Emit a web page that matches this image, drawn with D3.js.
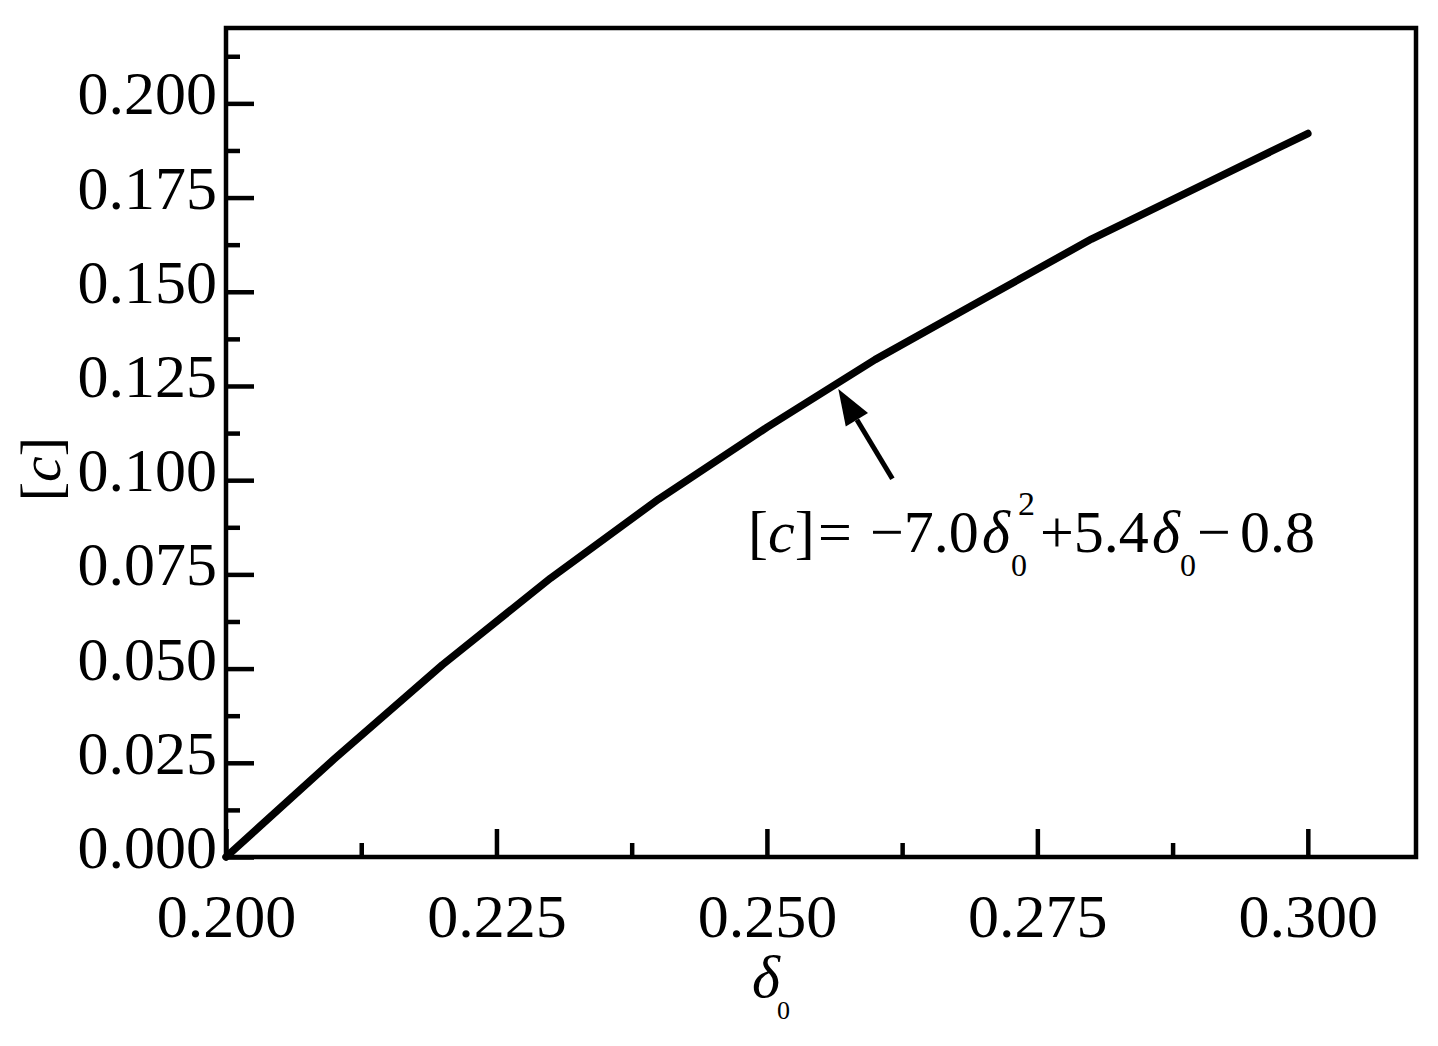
<!DOCTYPE html>
<html>
<head>
<meta charset="utf-8">
<script src="https://cdn.jsdelivr.net/npm/d3@7"></script>
<style>
  html, body { margin: 0; padding: 0; background: #fff; }
  svg { display: block; }
  text { font-family: "Liberation Serif", "Times New Roman", serif; fill: #000; }
</style>
</head>
<body>
<svg id="chart" width="1438" height="1046"></svg>
<script>
// ---- data ----
const delta0 = [0.20, 0.21, 0.22, 0.23, 0.24, 0.25, 0.26, 0.27, 0.28, 0.29, 0.30];
const cValues = [0.000, 0.026, 0.051, 0.074, 0.095, 0.114, 0.132, 0.148, 0.164, 0.178, 0.192];

const xTicks = [0.200, 0.225, 0.250, 0.275, 0.300];
const xTickLabels = ["0.200", "0.225", "0.250", "0.275", "0.300"];
const xMinorTicks = [0.2125, 0.2375, 0.2625, 0.2875];
const yTicks = [0.000, 0.025, 0.050, 0.075, 0.100, 0.125, 0.150, 0.175, 0.200];
const yTickLabels = ["0.000", "0.025", "0.050", "0.075", "0.100", "0.125", "0.150", "0.175", "0.200"];
const yMinorTicks = [0.0125, 0.0375, 0.0625, 0.0875, 0.1125, 0.1375, 0.1625, 0.1875, 0.2125];

const xDomain = [0.20, 0.31];
const yDomain = [0.00, 0.22];

// annotation arrow (data units): tail -> tip
const arrowTail = [0.2616, 0.1004];
const arrowTip = [0.2566, 0.1242];

// ---- layout ----
const mLeft = 226, mRight = 1416, mTop = 28, mBottom = 857;
const svg = d3.select("#chart");

const x = d3.scaleLinear().domain(xDomain).range([mLeft, mRight]);
const y = d3.scaleLinear().domain(yDomain).range([mBottom, mTop]);

// minor ticks
svg.append("g")
  .attr("transform", `translate(${mLeft},0)`)
  .call(d3.axisLeft(y).tickValues(yMinorTicks).tickSize(-14).tickFormat(""))
  .call(g => g.select(".domain").remove())
  .call(g => g.selectAll("line").attr("stroke", "#000").attr("stroke-width", 4.5));

svg.append("g")
  .attr("transform", `translate(0,${mBottom})`)
  .call(d3.axisBottom(x).tickValues(xMinorTicks).tickSize(-14).tickFormat(""))
  .call(g => g.select(".domain").remove())
  .call(g => g.selectAll("line").attr("stroke", "#000").attr("stroke-width", 4.5));

// major ticks + labels
svg.append("g")
  .attr("transform", `translate(${mLeft},0)`)
  .call(d3.axisLeft(y).tickValues(yTicks).tickSize(-28).tickPadding(10)
        .tickFormat((d, i) => yTickLabels[i]))
  .call(g => g.select(".domain").remove())
  .call(g => g.selectAll("line").attr("stroke", "#000").attr("stroke-width", 4.5))
  .call(g => g.selectAll("text")
        .attr("x", -9).attr("dy", null).attr("y", 10.5)
        .style("font-family", '"Liberation Serif", serif')
        .style("font-size", "62px"));

svg.append("g")
  .attr("transform", `translate(0,${mBottom})`)
  .call(d3.axisBottom(x).tickValues(xTicks).tickSize(-28).tickPadding(10)
        .tickFormat((d, i) => xTickLabels[i]))
  .call(g => g.select(".domain").remove())
  .call(g => g.selectAll("line").attr("stroke", "#000").attr("stroke-width", 4.5))
  .call(g => g.selectAll("text")
        .attr("dy", null).attr("y", 80)
        .style("font-family", '"Liberation Serif", serif')
        .style("font-size", "62px"));

// frame
svg.append("rect")
  .attr("x", mLeft).attr("y", mTop)
  .attr("width", mRight - mLeft).attr("height", mBottom - mTop)
  .attr("fill", "none").attr("stroke", "#000").attr("stroke-width", 4.5);

// data line
const line = d3.line().x((d, i) => x(delta0[i])).y(d => y(d));
svg.append("path")
  .datum(cValues)
  .attr("d", line)
  .attr("fill", "none")
  .attr("stroke", "#000")
  .attr("stroke-width", 7.5)
  .attr("stroke-linejoin", "round")
  .attr("stroke-linecap", "round");

// arrow
const tx = x(arrowTip[0]), ty = y(arrowTip[1]);
const sx = x(arrowTail[0]), sy = y(arrowTail[1]);
const ang = Math.atan2(ty - sy, tx - sx);
const headLen = 36, headHalf = 13;
const bx = tx - headLen * Math.cos(ang), by = ty - headLen * Math.sin(ang);
svg.append("line")
  .attr("x1", sx).attr("y1", sy).attr("x2", bx).attr("y2", by)
  .attr("stroke", "#000").attr("stroke-width", 5);
svg.append("path")
  .attr("d", `M${tx},${ty} L${bx + headHalf * Math.sin(ang)},${by - headHalf * Math.cos(ang)} L${bx - headHalf * Math.sin(ang)},${by + headHalf * Math.cos(ang)} Z`)
  .attr("fill", "#000");

// equation annotation
const ann = svg.append("g").style("font-size", "60px");
const base = 552;
const t1 = ann.append("text").attr("x", 748).attr("y", base);
t1.append("tspan").text("[");
t1.append("tspan").style("font-style", "italic").text("c");
t1.append("tspan").text("]");
ann.append("text").attr("x", 818).attr("y", base).text("=");
ann.append("text").attr("x", 870).attr("y", base).text("\u22127.0");
ann.append("text").attr("x", 982).attr("y", base).style("font-style", "italic").text("\u03b4");
ann.append("text").attr("x", 1011).attr("y", 576).style("font-size", "32px").text("0");
ann.append("text").attr("x", 1018).attr("y", 515).style("font-size", "34px").text("2");
ann.append("text").attr("x", 1040).attr("y", base).text("+5.4");
ann.append("text").attr("x", 1152).attr("y", base).style("font-style", "italic").text("\u03b4");
ann.append("text").attr("x", 1180).attr("y", 576).style("font-size", "32px").text("0");
ann.append("text").attr("x", 1197).attr("y", base).text("\u2212");
ann.append("text").attr("x", 1240).attr("y", base).text("0.8");

// axis titles
const xt = svg.append("g");
xt.append("text").attr("x", 752).attr("y", 997).style("font-size", "60px").style("font-style", "italic").text("\u03b4");
xt.append("text").attr("x", 777).attr("y", 1019).style("font-size", "26px").text("0");

const yt = svg.append("text")
  .attr("transform", "translate(60,469) rotate(-90)")
  .attr("text-anchor", "middle")
  .style("font-size", "58px");
yt.append("tspan").text("[");
yt.append("tspan").style("font-style", "italic").text("c");
yt.append("tspan").text("]");
</script>
</body>
</html>
